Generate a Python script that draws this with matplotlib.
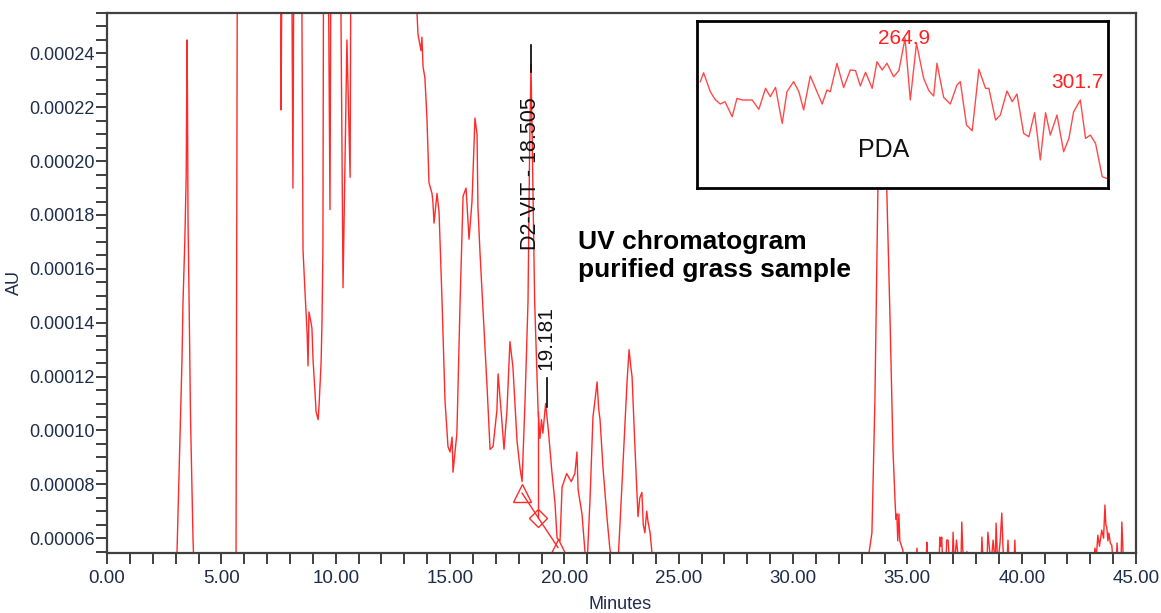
import numpy as np
import matplotlib.pyplot as plt
from matplotlib.ticker import MultipleLocator, StrMethodFormatter

plt.rcParams['font.family'] = ['Liberation Sans', 'DejaVu Sans']

# UV chromatogram trace (minutes, AU); values off-scale are clipped by the axes
t_early = [0.0, 3.00, 3.06, 3.19, 3.28, 3.32, 3.40, 3.46, 3.50, 3.52, 3.54, 3.59,
           3.65, 3.72, 3.76, 3.80, 5.60]
au_early = [5e-5, 5e-5, 5.5e-5, 9.75e-5, 1.27e-4, 1.47e-4, 1.70e-4, 1.94e-4, 2.45e-4,
            2.19e-4, 1.79e-4, 1.47e-4, 1.05e-4, 7.5e-5, 5.95e-5, 5e-5, 5e-5]

t_mid = [5.64, 5.73, 7.56, 7.61, 7.74, 8.00, 8.13, 8.22, 8.44, 8.53, 8.57, 8.66, 8.75,
         8.79, 8.83, 8.92, 8.96, 9.01, 9.09, 9.14, 9.23, 9.27, 9.36, 9.40, 9.44, 9.50,
         9.58, 9.75, 9.84, 10.10, 10.32, 10.49, 10.63, 10.71, 13.50]
au_mid = [5e-5, 4e-4, 4e-4, 2.19e-4, 4e-4, 4e-4, 1.90e-4, 4e-4, 4e-4, 2.43e-4, 1.67e-4,
          1.51e-4, 1.36e-4, 1.24e-4, 1.44e-4, 1.40e-4, 1.38e-4, 1.26e-4, 1.15e-4, 1.07e-4,
          1.04e-4, 1.09e-4, 1.25e-4, 1.40e-4, 1.67e-4, 4e-4, 4e-4, 1.82e-4, 4e-4, 4e-4,
          1.53e-4, 2.45e-4, 1.94e-4, 4e-4, 4e-4]

t_cluster = [13.56, 13.60, 13.73, 13.77, 13.82, 13.90, 13.99, 14.08, 14.21, 14.25, 14.30,
             14.43, 14.52, 14.65, 14.78, 14.91, 15.00, 15.09, 15.13, 15.22, 15.30, 15.44,
             15.57, 15.70, 15.83, 15.96, 16.09, 16.18, 16.22, 16.31, 16.44, 16.62, 16.75,
             16.88, 17.05, 17.10, 17.23, 17.36, 17.49, 17.62, 17.75, 17.93, 18.06, 18.15,
             18.28, 18.41, 18.48, 18.54, 18.60, 18.70, 18.85, 18.93, 19.00, 19.06, 19.18,
             19.30, 19.45, 19.59, 19.68, 19.81, 19.90, 20.10, 20.30, 20.46, 20.55, 20.60,
             20.77, 20.90, 20.99, 21.12, 21.25, 21.35, 21.43, 21.50, 21.56, 21.69, 21.86,
             21.99, 22.13, 22.34, 22.52, 22.74, 22.83, 22.90, 22.96, 23.09, 23.22, 23.30,
             23.39, 23.45, 23.52, 23.60, 23.66, 23.75, 23.83, 23.95, 33.20]
au_cluster = [2.54e-4, 2.47e-4, 2.41e-4, 2.46e-4, 2.35e-4, 2.31e-4, 2.16e-4, 1.92e-4,
              1.88e-4, 1.85e-4, 1.77e-4, 1.88e-4, 1.81e-4, 1.48e-4, 1.11e-4, 9.4e-5,
              9.2e-5, 9.75e-5, 8.45e-5, 9.2e-5, 9.9e-5, 1.48e-4, 1.87e-4, 1.90e-4,
              1.71e-4, 1.85e-4, 2.16e-4, 2.10e-4, 1.83e-4, 1.66e-4, 1.45e-4, 1.16e-4,
              9.3e-5, 9.4e-5, 1.075e-4, 1.21e-4, 1.075e-4, 9.3e-5, 1.075e-4, 1.33e-4,
              1.235e-4, 9.6e-5, 8.6e-5, 8.1e-5, 1.11e-4, 1.48e-4, 2.04e-4, 2.36e-4,
              2.04e-4, 1.48e-4, 1.075e-4, 9.7e-5, 1.04e-4, 9.9e-5, 1.10e-4, 1.00e-4,
              8.5e-5, 7.3e-5, 6.0e-5, 5.9e-5, 7.9e-5, 8.4e-5, 8.1e-5, 8.4e-5, 9.2e-5,
              7.8e-5, 6.9e-5, 5.5e-5, 5e-5, 7.4e-5, 1.05e-4, 1.12e-4, 1.18e-4, 1.08e-4,
              1.04e-4, 8.6e-5, 6.8e-5, 5.6e-5, 5e-5, 5e-5, 8.0e-5, 1.18e-4, 1.30e-4,
              1.24e-4, 1.20e-4, 9.3e-5, 6.8e-5, 7.5e-5, 7.7e-5, 6.5e-5, 6.2e-5, 7.0e-5,
              6.6e-5, 6.2e-5, 5.45e-5, 5e-5, 5e-5]

t_late = [33.32, 33.45, 33.58, 33.71, 33.90, 34.10, 34.24, 34.37, 34.46, 34.50, 34.54,
          34.58, 34.63, 34.67, 34.80, 34.90, 35.38, 35.42, 35.46, 35.82, 35.85, 35.88,
          36.38, 36.42, 36.46, 36.50, 36.55, 36.68, 36.72, 36.78, 36.85, 36.96, 37.00,
          37.05, 37.15, 37.25, 37.34, 37.38, 37.42, 37.50, 37.60, 37.70, 38.22, 38.26,
          38.32, 38.48, 38.52, 38.58, 38.65, 38.75, 38.84, 38.88, 38.95, 39.05, 39.13,
          39.18, 39.22, 39.35, 39.40, 39.45, 39.66, 39.70, 39.74, 43.15, 43.20, 43.27,
          43.33, 43.40, 43.50, 43.58, 43.64, 43.68, 43.72, 43.77, 43.81, 43.88, 43.94,
          44.00, 44.12, 44.17, 44.22, 44.34, 44.38, 44.43, 44.50, 45.00]
au_late = [5.44e-5, 6.2e-5, 1.11e-4, 1.89e-4, 2.40e-4, 1.89e-4, 1.42e-4, 9.3e-5, 7.4e-5,
           6.7e-5, 6.9e-5, 5.9e-5, 6.9e-5, 5.9e-5, 5.56e-5, 5e-5, 5e-5, 5.63e-5, 5e-5,
           5e-5, 5.85e-5, 5e-5, 5e-5, 6.04e-5, 5.7e-5, 6.04e-5, 5e-5, 5e-5, 5.93e-5,
           5.93e-5, 5e-5, 5e-5, 6.22e-5, 5e-5, 5.93e-5, 5e-5, 5e-5, 6.6e-5, 5.6e-5, 5e-5,
           5.5e-5, 5e-5, 5e-5, 6.04e-5, 5e-5, 5e-5, 6.22e-5, 5.7e-5, 5e-5, 5.93e-5, 5e-5,
           6.56e-5, 5e-5, 5.8e-5, 6.93e-5, 5.7e-5, 5e-5, 5e-5, 5.93e-5, 5e-5, 5e-5,
           5.93e-5, 5e-5, 5e-5, 5.63e-5, 5.4e-5, 6.11e-5, 5.7e-5, 6.3e-5, 6.0e-5, 7.23e-5,
           6.5e-5, 6.41e-5, 5.9e-5, 6.19e-5, 5.8e-5, 5.74e-5, 5e-5, 5e-5, 5.82e-5, 5e-5,
           5e-5, 6.6e-5, 5.5e-5, 5e-5, 5e-5]

# peak integration marks for D2-VIT
mark_t = [18.15, 18.85, 19.72]
mark_au = [7.67e-5, 6.74e-5, 5.65e-5]
drop_au = [6.74e-5, 1.07e-4]

# PDA spectrum inset (nm, relative absorbance)
wl = [221.9, 222.6, 224.0, 225.0, 226.1, 227.1, 228.6, 229.6, 230.7, 232.8, 234.2, 235.6,
      236.6, 237.7, 239.1, 240.1, 241.5, 242.6, 243.6, 245.0, 247.5, 248.5, 249.2, 250.6,
      252.0, 253.4, 254.5, 255.5, 256.6, 258.0, 259.0, 260.1, 261.1, 262.5, 263.6, 264.9,
      266.0, 267.3, 268.8, 269.9, 270.9, 271.6, 273.0, 274.4, 275.8, 276.5, 277.8, 279.0,
      280.4, 281.8, 282.5, 283.9, 284.9, 286.3, 287.4, 288.4, 289.8, 290.9, 292.1, 293.3,
      294.4, 295.4, 296.8, 298.2, 299.3, 300.3, 301.7, 302.8, 303.8, 304.9, 306.3, 307.2]
absorb = [.637, .690, .577, .531, .503, .517, .427, .537, .527, .527, .471, .597, .547, .603,
          .387, .577, .637, .577, .467, .671, .503, .587, .577, .747, .601, .707, .703, .611,
          .693, .597, .756, .707, .747, .666, .703, .896, .527, .866, .657, .583, .551, .747,
          .543, .503, .617, .637, .377, .343, .711, .597, .597, .407, .437, .581, .517, .563,
          .327, .307, .451, .168, .451, .317, .437, .217, .297, .457, .527, .297, .317, .267,
          .068, .058]

fig = plt.figure(figsize=(11.61, 6.13), dpi=100)
ax = fig.add_axes([0.0922, 0.0979, 0.8863, 0.8809])

red = '#ff2a2a'
t_all = t_early + t_mid + t_cluster + t_late
au_all = au_early + au_mid + au_cluster + au_late
ax.plot(t_all, au_all, color=red, lw=1.0)

ax.plot([mark_t[0], mark_t[2]], [mark_au[0], mark_au[2]], color=red, lw=1.0)
ax.plot([mark_t[1], mark_t[1]], drop_au, color=red, lw=1.0)
ax.plot(mark_t[0], mark_au[0], '^', ms=13, mfc='none', mec=red, mew=1.0)
ax.plot(mark_t[1], mark_au[1], 'D', ms=9, mfc='none', mec=red, mew=1.0)
ax.plot(mark_t[2], mark_au[2], '^', ms=13, mfc='none', mec=red, mew=1.0)

# peak labels
ax.plot([18.54, 18.54], [2.33e-4, 2.43e-4], color='black', lw=1.2)
ax.text(18.54, 2.237e-4, 'D2-VIT - 18.505', rotation=90, ha='center', va='top',
        fontsize=15.5, color='#111111')
ax.plot([19.24, 19.24], [1.086e-4, 1.194e-4], color='black', lw=1.2)
ax.text(19.19, 1.224e-4, '19.181', rotation=90, ha='center', va='bottom',
        fontsize=15, color='#111111')

ax.text(20.6, 1.647e-4, 'UV chromatogram\npurified grass sample', ha='left', va='center',
        fontsize=19, fontweight='bold', linespacing=1.2)

ax.set_xlim(0, 45)
ax.set_ylim(5.45e-5, 2.55e-4)
ax.xaxis.set_major_locator(MultipleLocator(5))
ax.xaxis.set_minor_locator(MultipleLocator(1))
ax.yaxis.set_major_locator(MultipleLocator(2e-5))
ax.yaxis.set_minor_locator(MultipleLocator(5e-6))
ax.xaxis.set_major_formatter(StrMethodFormatter('{x:.2f}'))
ax.yaxis.set_major_formatter(StrMethodFormatter('{x:.5f}'))
ax.tick_params(which='both', direction='out', color='#303030', width=1.3)
ax.tick_params(axis='y', which='both', length=8, pad=1, labelsize=13, labelcolor='#1e2d4a')
ax.tick_params(axis='x', which='both', length=8, pad=4, labelsize=13.5, labelcolor='#1e2d4a')
for s in ax.spines.values():
    s.set_color('#404040')
    s.set_linewidth(1.6)

ax.set_xlabel('Minutes', fontsize=13, color='#1e2d4a')
ax.set_ylabel('AU', fontsize=13, color='#1e2d4a')
ax.xaxis.set_label_coords(0.499, -0.0805)
ax.yaxis.set_label_coords(-0.082, 0.5)

# PDA inset
ins = fig.add_axes([0.6003, 0.6933, 0.354, 0.2724])
ins.plot(wl, absorb, color='#ff4a4a', lw=1.0)
ins.set_xlim(221.2, 307.5)
ins.set_ylim(0, 1)
ins.set_xticks([])
ins.set_yticks([])
for s in ins.spines.values():
    s.set_color('black')
    s.set_linewidth(2)
ins.text(264.7, 0.898, '264.9', ha='center', va='center', fontsize=15, color='#ff2020')
ins.text(301.0, 0.629, '301.7', ha='center', va='center', fontsize=15, color='#ff2020')
ins.text(260.3, 0.228, 'PDA', ha='center', va='center', fontsize=18, color='#111111')

fig.savefig('out.png', dpi=100)
